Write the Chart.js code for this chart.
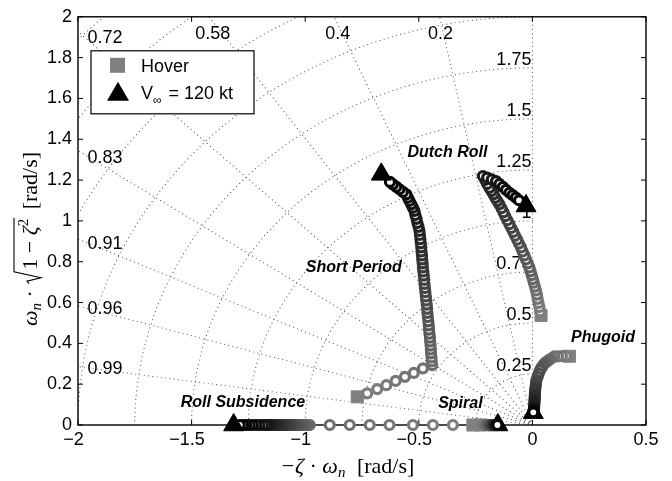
<!DOCTYPE html>
<html>
<head>
<meta charset="utf-8">
<script src="https://cdn.jsdelivr.net/npm/chart.js@4.4.0/dist/chart.umd.min.js"></script>
<style>
  html, body { margin: 0; padding: 0; background: #fff; }
</style>
</head>
<body>
<canvas id="graph" width="672" height="481"></canvas>
<script>
// axis ticks
const xTicks = [-2, -1.5, -1, -0.5, 0, 0.5];
const yTicks = [0, 0.2, 0.4, 0.6, 0.8, 1, 1.2, 1.4, 1.6, 1.8, 2];

// s-plane grid: damping ratio rays and natural frequency arcs
const dampingLines = [0.2, 0.4, 0.58, 0.72, 0.83, 0.91, 0.96, 0.99];
const freqCircles = [0.25, 0.5, 0.75, 1, 1.25, 1.5, 1.75, 2, 2.25, 2.5, 2.75];
const freqLabels = [0.25, 0.5, 0.75, 1, 1.25, 1.5, 1.75];

// eigenvalue loci, hover first, 120 kt last
const shortPeriodX = [-0.771, -0.727, -0.683, -0.643, -0.602, -0.561, -0.522, -0.482, -0.441,
  -0.443, -0.444, -0.446, -0.447, -0.448, -0.450, -0.451, -0.453,
  -0.455, -0.456, -0.458, -0.460, -0.462, -0.463, -0.465, -0.467,
  -0.469, -0.471, -0.473, -0.475, -0.476, -0.478, -0.480, -0.482,
  -0.483, -0.485, -0.486, -0.488, -0.489,
  -0.491, -0.493, -0.495, -0.497,
  -0.501, -0.506, -0.510, -0.515, -0.519,
  -0.526, -0.533, -0.541, -0.548, -0.555,
  -0.570, -0.585, -0.599, -0.614,
  -0.627,
  -0.665];
const shortPeriodY = [0.138, 0.155, 0.176, 0.195, 0.216, 0.236, 0.255, 0.277, 0.293,
  0.312, 0.331, 0.351, 0.370, 0.389, 0.409, 0.428, 0.447,
  0.467, 0.488, 0.508, 0.529, 0.549, 0.569, 0.590, 0.610,
  0.630, 0.651, 0.671, 0.691, 0.711, 0.732, 0.752, 0.772,
  0.792, 0.811, 0.831, 0.850, 0.870,
  0.890, 0.910, 0.931, 0.951,
  0.971, 0.990, 1.010, 1.029, 1.049,
  1.065, 1.081, 1.098, 1.114, 1.130,
  1.142, 1.155, 1.167, 1.179,
  1.191,
  1.228];

const dutchRollX = [0.038,
  0.034, 0.031, 0.027, 0.023, 0.020, 0.016,
  0.011, 0.006, 0.002, -0.003, -0.008, -0.013,
  -0.020, -0.028, -0.035, -0.043, -0.050,
  -0.059, -0.067, -0.076, -0.084, -0.093, -0.101,
  -0.110, -0.119, -0.127, -0.136, -0.145,
  -0.154, -0.163, -0.171, -0.180, -0.189,
  -0.199, -0.208, -0.218,
  -0.199, -0.179, -0.160,
  -0.145, -0.130, -0.116, -0.101,
  -0.087, -0.073, -0.059,
  -0.028];
const dutchRollY = [0.537,
  0.557, 0.578, 0.598, 0.618, 0.639, 0.659,
  0.678, 0.697, 0.715, 0.734, 0.753, 0.772,
  0.792, 0.811, 0.831, 0.850, 0.870,
  0.889, 0.908, 0.927, 0.946, 0.965, 0.984,
  1.003, 1.023, 1.042, 1.062, 1.081,
  1.097, 1.113, 1.130, 1.146, 1.162,
  1.181, 1.201, 1.220,
  1.212, 1.203, 1.195,
  1.181, 1.167, 1.152, 1.138,
  1.126, 1.114, 1.101,
  1.073];

const phugoidX = [0.163,
  0.147, 0.130, 0.113, 0.097,
  0.085, 0.075, 0.065, 0.055,
  0.049, 0.043, 0.038, 0.033, 0.028,
  0.023, 0.018, 0.016, 0.015, 0.013, 0.012,
  0.011, 0.011, 0.010, 0.010, 0.009, 0.009, 0.008,
  0.008, 0.007, 0.006, 0.006, 0.005, 0.005, 0.004,
  0.004];
const phugoidY = [0.337,
  0.337, 0.337, 0.336, 0.336,
  0.327, 0.320, 0.312, 0.304,
  0.295, 0.286, 0.277, 0.268, 0.252,
  0.236, 0.220, 0.207, 0.194, 0.181, 0.168,
  0.155, 0.145, 0.136, 0.126, 0.117, 0.108, 0.098,
  0.089, 0.082, 0.076, 0.071, 0.067, 0.064, 0.062,
  0.060];

const rollX = [-0.262, -0.350, -0.438, -0.526, -0.629, -0.716, -0.804, -0.892,
  -0.980, -0.985, -0.991, -0.996, -1.002, -1.007, -1.013, -1.018, -1.024, -1.029,
  -1.035, -1.040, -1.046, -1.051, -1.057, -1.062, -1.068, -1.073, -1.079, -1.084,
  -1.090, -1.095, -1.101, -1.106, -1.112, -1.117, -1.123, -1.128, -1.134, -1.139,
  -1.145, -1.150, -1.156, -1.161, -1.167, -1.172,
  -1.186, -1.201, -1.215, -1.230, -1.244, -1.259, -1.273, -1.288,
  -1.315];
const rollY = [0, 0, 0, 0, 0, 0, 0, 0,
  0, 0, 0, 0, 0, 0, 0, 0, 0, 0,
  0, 0, 0, 0, 0, 0, 0, 0, 0, 0,
  0, 0, 0, 0, 0, 0, 0, 0, 0, 0,
  0, 0, 0, 0, 0, 0,
  0, 0, 0, 0, 0, 0, 0, 0,
  0];

const spiralX = [-0.225, -0.215, -0.206, -0.198, -0.191, -0.185, -0.180, -0.176,
  -0.172, -0.168, -0.164, -0.160, -0.157, -0.154, -0.152];
const spiralY = [0, 0, 0, 0, 0, 0, 0, 0, 0, 0, 0, 0, 0, 0, 0];

const modeNames = ['Short Period', 'Dutch Roll', 'Phugoid', 'Roll Subsidence', 'Spiral'];

// label placement (data units)
const dampingLabelPos = [[-0.404, 1.917], [-0.857, 1.917], [-1.407, 1.917], [-1.881, 1.898],
  [-1.881, 1.307], [-1.881, 0.888], [-1.881, 0.566], [-1.881, 0.273]];
const modeLabelPos = [[-0.786, 0.771], [-0.374, 1.337], [0.311, 0.429], [-1.274, 0.112], [-0.317, 0.107]];

const modes = [
  { xs: shortPeriodX, ys: shortPeriodY, endOnTop: true },
  { xs: dutchRollX, ys: dutchRollY, endOnTop: true },
  { xs: phugoidX, ys: phugoidY, endOnTop: false },
  { xs: rollX, ys: rollY, endOnTop: true },
  { xs: spiralX, ys: spiralY, endOnTop: false }
];

function shade(i, n) {
  var g = Math.round(128 * (1 - i / (n - 1)));
  return 'rgb(' + g + ',' + g + ',' + g + ')';
}

function fmtTick(v) {
  var s = String(Math.round(Math.abs(v) * 10) / 10);
  return v < 0 ? '\u2212' + s + '\u2002' : s;
}

var datasets = [];

modes.forEach(function (m) {
  var n = m.xs.length;
  var pts = [], cols = [];
  for (var i = 1; i < n - 1; i++) {
    pts.push({ x: m.xs[i], y: m.ys[i] });
    cols.push(shade(i, n));
  }
  datasets.push({
    data: pts,
    pointStyle: 'circle',
    pointRadius: 4.5,
    pointBorderWidth: 3.2,
    pointBackgroundColor: '#fff',
    pointBorderColor: cols,
    clip: false,
    order: 1
  });
});

datasets.push({
  data: modes.map(m => ({ x: m.xs[0], y: m.ys[0] })),
  pointStyle: 'rect',
  pointRadius: 8.5,
  pointBorderWidth: 1,
  pointBackgroundColor: '#808080',
  pointBorderColor: '#808080',
  clip: false,
  order: 2
});

// 120 kt end points; some sit above their locus, some beneath it
[true, false].forEach(function (onTop) {
  datasets.push({
    data: modes.filter(m => m.endOnTop === onTop)
      .map(m => ({ x: m.xs[m.xs.length - 1], y: m.ys[m.ys.length - 1] })),
    pointStyle: 'triangle',
    pointRadius: 11.5,
    pointBorderWidth: 1,
    pointBackgroundColor: '#000',
    pointBorderColor: '#000',
    clip: false,
    order: onTop ? 0 : 2
  });
});

// draw a row of text pieces along the baseline, returns total width
function runs(ctx, parts, x0, y0, measureOnly) {
  var x = x0;
  parts.forEach(function (p) {
    ctx.font = p.font;
    var w = ctx.measureText(p.t).width;
    if (!measureOnly) ctx.fillText(p.t, x, y0 + (p.dy || 0));
    x += w + (p.gap || 0);
  });
  return x - x0;
}

const sgrid = {
  id: 'sgrid',
  beforeDatasetsDraw(chart) {
    const ctx = chart.ctx, a = chart.chartArea;
    const sx = chart.scales.x, sy = chart.scales.y;
    const px = v => sx.getPixelForValue(v), py = v => sy.getPixelForValue(v);

    ctx.save();
    ctx.beginPath();
    ctx.rect(a.left, a.top, a.right - a.left, a.bottom - a.top);
    ctx.clip();
    ctx.setLineDash([0.1, 4.2]);
    ctx.lineCap = 'round';
    ctx.strokeStyle = '#555';
    ctx.lineWidth = 1.1;
    [0].concat(dampingLines).forEach(z => {
      ctx.beginPath();
      ctx.moveTo(px(0), py(0));
      ctx.lineTo(px(-z * 3), py(Math.sqrt(1 - z * z) * 3));
      ctx.stroke();
    });
    freqCircles.forEach(w => {
      ctx.beginPath();
      for (let k = 0; k <= 90; k++) {
        const ang = Math.PI / 2 + k * Math.PI / 180;
        const X = px(w * Math.cos(ang)), Y = py(w * Math.sin(ang));
        if (k) ctx.lineTo(X, Y); else ctx.moveTo(X, Y);
      }
      ctx.stroke();
    });
    ctx.restore();

    // frame with inward ticks
    ctx.save();
    ctx.strokeStyle = '#000';
    ctx.lineWidth = 1.4;
    ctx.strokeRect(a.left, a.top, a.right - a.left, a.bottom - a.top);
    ctx.lineWidth = 1;
    ctx.beginPath();
    xTicks.forEach(v => {
      const X = px(v);
      ctx.moveTo(X, a.bottom); ctx.lineTo(X, a.bottom - 5);
      ctx.moveTo(X, a.top); ctx.lineTo(X, a.top + 5);
    });
    yTicks.forEach(v => {
      const Y = py(v);
      ctx.moveTo(a.left, Y); ctx.lineTo(a.left + 5, Y);
      ctx.moveTo(a.right, Y); ctx.lineTo(a.right - 5, Y);
    });
    ctx.stroke();

    ctx.fillStyle = '#000';
    ctx.font = '18px "Liberation Sans"';
    ctx.textAlign = 'center';
    ctx.textBaseline = 'middle';
    dampingLines.forEach((z, i) => {
      ctx.fillText(String(z), px(dampingLabelPos[i][0]), py(dampingLabelPos[i][1]));
    });
    ctx.textAlign = 'right';
    ctx.textBaseline = 'alphabetic';
    freqLabels.forEach(w => {
      ctx.fillText(String(w), px(0) - 1, py(w) - 3);
    });
    ctx.restore();
  },
  afterDraw(chart) {
    const ctx = chart.ctx, a = chart.chartArea;
    const sx = chart.scales.x, sy = chart.scales.y;
    ctx.save();

    // mode names
    ctx.fillStyle = '#000';
    ctx.font = 'italic bold 16px "Liberation Sans"';
    ctx.textAlign = 'center';
    ctx.textBaseline = 'middle';
    modeNames.forEach((name, i) => {
      ctx.fillText(name, sx.getPixelForValue(modeLabelPos[i][0]), sy.getPixelForValue(modeLabelPos[i][1]));
    });

    // legend
    const lx = a.left + 13, ly = a.top + 34;
    ctx.fillStyle = '#fff';
    ctx.fillRect(lx, ly, 163, 63);
    ctx.strokeStyle = '#000';
    ctx.lineWidth = 1.2;
    ctx.strokeRect(lx, ly, 163, 63);
    ctx.fillStyle = '#808080';
    ctx.fillRect(lx + 19, ly + 7, 15, 15);
    ctx.fillStyle = '#000';
    ctx.beginPath();
    ctx.moveTo(lx + 27, ly + 31);
    ctx.lineTo(lx + 38, ly + 50);
    ctx.lineTo(lx + 16, ly + 50);
    ctx.closePath();
    ctx.fill();
    ctx.textAlign = 'left';
    ctx.textBaseline = 'alphabetic';
    ctx.font = '18px "Liberation Sans"';
    ctx.fillText('Hover', lx + 50, ly + 21);
    runs(ctx, [
      { t: 'V', font: '18px "Liberation Sans"' },
      { t: '\u221e', font: '12px "Liberation Sans"', dy: 5, gap: 2 },
      { t: ' = 120 kt', font: '18px "Liberation Sans"' }
    ], lx + 50, ly + 48);

    // x axis title
    const serif = '"Liberation Serif"';
    const xParts = [
      { t: '\u2212', font: '22px ' + serif, gap: 1 },
      { t: '\u03b6', font: 'italic 22px ' + serif },
      { t: ' \u00b7 ', font: '22px ' + serif },
      { t: '\u03c9', font: 'italic 22px ' + serif },
      { t: 'n', font: 'italic 15px ' + serif, dy: 4, gap: 6 },
      { t: ' [rad/s]', font: '22px ' + serif }
    ];
    const xw = runs(ctx, xParts, 0, 0, true);
    runs(ctx, xParts, 348 - xw / 2, 473);

    // y axis title, rotated
    ctx.translate(37, 239);
    ctx.rotate(-Math.PI / 2);
    const head = [
      { t: '\u03c9', font: 'italic 22px ' + serif },
      { t: 'n', font: 'italic 15px ' + serif, dy: 4 },
      { t: ' \u00b7 ', font: '22px ' + serif }
    ];
    const body = [
      { t: '1 \u2212 ', font: '22px ' + serif },
      { t: '\u03b6', font: 'italic 22px ' + serif },
      { t: '2', font: '15px ' + serif, dy: -9 }
    ];
    const tail = [{ t: ' [rad/s]', font: '22px ' + serif }];
    const hw = runs(ctx, head, 0, 0, true);
    const bw = runs(ctx, body, 0, 0, true);
    const tw = runs(ctx, tail, 0, 0, true);
    const rad = 15;
    let u = -(hw + rad + bw + tw + 4) / 2;
    u += runs(ctx, head, u, 0);
    ctx.strokeStyle = '#000';
    ctx.lineWidth = 1.1;
    ctx.beginPath();
    ctx.moveTo(u + 1, -8);
    ctx.lineTo(u + 3.5, -10);
    ctx.lineTo(u + 7, 4);
    ctx.lineTo(u + 13, -23);
    ctx.lineTo(u + rad + bw + 1, -23);
    ctx.stroke();
    u += rad;
    u += runs(ctx, body, u, 0) + 4;
    runs(ctx, tail, u, 0);

    ctx.restore();
  }
};

Chart.defaults.font.family = '"Liberation Sans"';

new Chart('graph', {
  type: 'scatter',
  data: { datasets: datasets },
  plugins: [sgrid],
  options: {
    responsive: false,
    devicePixelRatio: 1,
    animation: false,
    events: [],
    layout: { padding: { top: 15, right: 26, left: 0, bottom: 0 } },
    plugins: { legend: { display: false }, tooltip: { enabled: false } },
    scales: {
      x: {
        type: 'linear', min: -2, max: 0.5,
        afterBuildTicks: s => { s.ticks = xTicks.map(v => ({ value: v })); },
        afterFit: s => { s.height = 56; },
        grid: { display: false, drawTicks: false },
        border: { display: false },
        ticks: { padding: 4, color: '#000', font: { size: 18 }, maxRotation: 0, callback: v => fmtTick(v) }
      },
      y: {
        type: 'linear', min: 0, max: 2,
        afterBuildTicks: s => { s.ticks = yTicks.map(v => ({ value: v })); },
        afterFit: s => { s.width = 78; },
        grid: { display: false, drawTicks: false },
        border: { display: false },
        ticks: { padding: 6, color: '#000', font: { size: 18 }, callback: v => fmtTick(v) }
      }
    }
  }
});
</script>
</body>
</html>
